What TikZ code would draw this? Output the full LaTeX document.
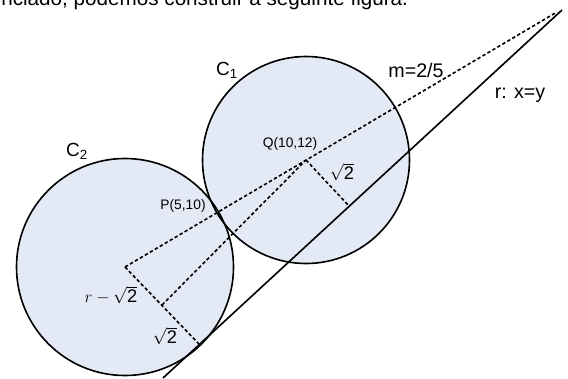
\documentclass[tikz,border=0pt]{standalone}
\usepackage{fontspec}
\setmainfont{Liberation Sans}
\usetikzlibrary{positioning}
\definecolor{discbg}{HTML}{E4EAF5}
\tikzset{
  disc/.style={fill=discbg},
  rim/.style={draw=black, line width=1.15pt},
  tline/.style={line width=1.15pt},
  dline/.style={line width=1.15pt, dash pattern=on 2.4pt off 1.7pt},
  lbl/.style={inner sep=0pt, font=\fontsize{13.5}{15}\selectfont},
  big/.style={inner sep=0pt, font=\fontsize{14}{16}\selectfont},
  pt/.style={inner sep=0pt, font=\fontsize{9.8}{11}\selectfont},
  rad/.style={inner sep=0pt, font=\fontsize{13}{15}\selectfont},
}

\begin{document}
\begin{tikzpicture}[x=0.025cm, y=-0.025cm]
  \useasboundingbox (0,0) rectangle (568,378);

  % centres, feet and ends (pixel grid)
  \coordinate (Q) at (306,160);
  \coordinate (O2) at (125,267);
  \coordinate (E) at (557,12);
  \coordinate (K) at (162,305);
  \coordinate (T1) at (349,206);
  \coordinate (T2) at (199,344);
  \coordinate (R1) at (163,378);
  \coordinate (R2) at (562,10);

  % the two circles
  \fill[disc] (Q) circle[radius=103.5];
  \fill[disc] (O2) circle[radius=108.5];
  \draw[rim] (Q) circle[radius=103.5];
  \draw[rim] (O2) circle[radius=108.5];

  % line r and the dotted construction
  \draw[tline] (R1) -- (R2);
  \draw[dline] (O2) -- (E);
  \draw[dline] (O2) -- (T2);
  \draw[dline] (K) -- (Q);
  \draw[dline] (Q) -- (T1);

  \node[inner sep=0pt, anchor=base west, font=\fontsize{14.7}{16}\selectfont]
    (intro) at (1,5.5) {nciado, podemos construir a seguinte figura.};

  \node[lbl] (c1lbl) at (227,70) {C\textsubscript{1}};
  \node[lbl] (c2lbl) at (77,151) {C\textsubscript{2}};
  \node[big] (mlbl) at (416,70) {m=2/5};
  \node[big] (rlbl) at (520,95) {r: x=y};
  \node[pt] (qlbl) at (290,144) {Q(10,12)};
  \node[pt] (plbl) at (183,206) {P(5,10)};
  \node[rad] (s1) at (342,172) {$\sqrt{\mbox{2}}$};
  \node[rad] (s2) at (111,295) {$r-\sqrt{\mbox{2}}$};
  \node[rad] (s3) at (165,336) {$\sqrt{\mbox{2}}$};
\end{tikzpicture}
\end{document}
